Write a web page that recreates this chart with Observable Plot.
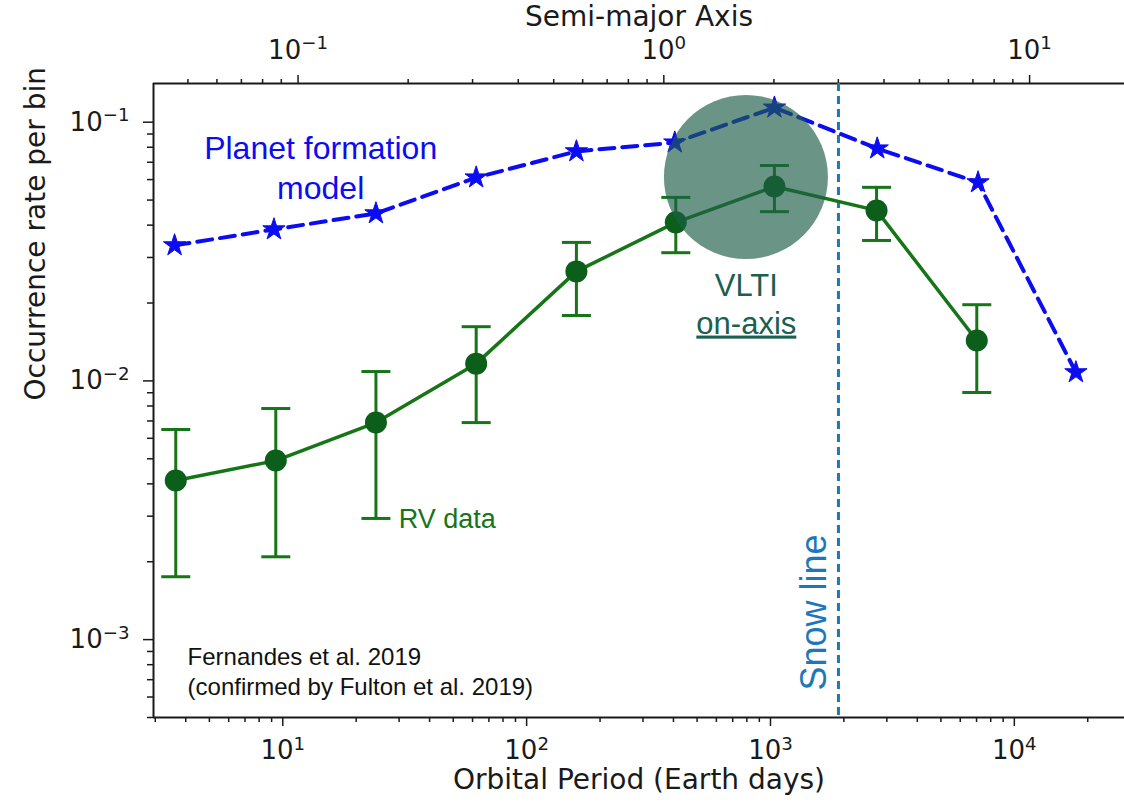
<!DOCTYPE html>
<html>
<head>
<meta charset="utf-8">
<script src="https://cdn.jsdelivr.net/npm/d3@7"></script>
<script src="https://cdn.jsdelivr.net/npm/@observablehq/plot@0.6"></script>
<style>
  html, body { margin: 0; padding: 0; background: #fff; }
  #chart { width: 1124px; height: 809px; }
</style>
</head>
<body>
<div id="chart"></div>
<script>
// ---- data ----
const periods = [3.64, 9.36, 24.1, 62.1, 160, 409, 1038, 2723, 7015];           // Earth days
const rvRate  = [0.00412, 0.00492, 0.0069, 0.01166, 0.0265, 0.041, 0.0564, 0.0456, 0.01433];
const rvLow   = [0.00175, 0.00209, 0.00294, 0.0069, 0.0179, 0.0313, 0.0451, 0.0349, 0.00902];
const rvHigh  = [0.00649, 0.00782, 0.01087, 0.0162, 0.0343, 0.0512, 0.068, 0.056, 0.0197];

const modelPeriods = [3.6, 9.2, 24.1, 62.1, 160, 405, 1038, 2740, 7100, 17890];
const modelRate    = [0.0334, 0.0385, 0.0444, 0.0611, 0.0771, 0.0834, 0.1138, 0.0791, 0.0585, 0.01079];

const snowLinePeriod = [1900];
const vltiCenter = [{period: 793, rate: 0.0614}];

// tick values and labels
const periodMajor = [10, 100, 1000, 10000];
const periodMajorLabels = ["10¹", "10²", "10³", "10⁴"];
const rateMajor = [0.001, 0.01, 0.1];
const rateMajorLabels = ["10⁻³", "10⁻²", "10⁻¹"];
const smaMajor = [0.1, 1, 10];
const smaMajorLabels = ["10⁻¹", "10⁰", "10¹"];

// annotation texts and anchors (data coordinates)
const modelLabel = ["Planet formation\nmodel"];
const modelLabelAt = [14.3, 0.0507];
const rvLabel = ["RV data"];
const rvLabelAt = [29.9, 0.00269];
const vltiLabel = ["VLTI"];
const vltiLabelAt = [796, 0.02138];
const onAxisLabel = ["on-axis"];
const onAxisLabelAt = [796, 0.01524];
const snowLabel = ["Snow line"];
const snowLabelAt = [1517, 0.000636];
const refLabel = ["Fernandes et al. 2019\n(confirmed by Fulton et al. 2019)"];
const refLabelAt = [4.07, 0.000613];

// ---- scales ----
const xDomain = [2.95, 28300];
const yDomain = [0.0005, 0.1411];

// Kepler: semi-major axis (AU) -> period (days)
const smaToPeriod = a => 365.25 * Math.pow(a, 1.5);

function minorTicks(lo, hi) {
  const out = [];
  for (let e = -5; e <= 6; e++) {
    for (let m = 2; m <= 9; m++) {
      const v = m * Math.pow(10, e);
      if (v >= lo && v <= hi) out.push(v);
    }
  }
  return out;
}
const periodMinor = minorTicks(xDomain[0], xDomain[1]);
const rateMinor = minorTicks(yDomain[0], yDomain[1]);
const smaMinor = minorTicks(Math.pow(xDomain[0] / 365.25, 2 / 3), Math.pow(xDomain[1] / 365.25, 2 / 3));

const rv = periods.map((p, i) => ({period: p, rate: rvRate[i], lo: rvLow[i], hi: rvHigh[i]}));
const model = modelPeriods.map((p, i) => ({period: p, rate: modelRate[i]}));
const smaTicks = smaMajor.map((a, i) => ({period: smaToPeriod(a), label: smaMajorLabels[i]}));

const capSymbol = {
  draw(context, size) {
    const w = Math.sqrt(size / Math.PI);
    context.moveTo(-w, 0);
    context.lineTo(w, 0);
  }
};

const GREEN = "#167516";
const GREEN_DOT = "#0b5f1a";
const BLUE = "#0c0cf2";
const SNOW = "#1c78b8";
const TEAL = "#1a6050";
const AX = "#1a1a1a";
const ANNOT_FONT = "'Liberation Sans', Arial, Helvetica, sans-serif";

const pLab = new Map(periodMajor.map((v, i) => [v, periodMajorLabels[i]]));
const rLab = new Map(rateMajor.map((v, i) => [v, rateMajorLabels[i]]));

const chart = Plot.plot({
  width: 1124,
  height: 809,
  marginLeft: 153,
  marginRight: 0,
  marginTop: 83,
  marginBottom: 92,
  style: {fontFamily: "'DejaVu Sans', sans-serif", fontSize: "26px", background: "#fff", color: AX},
  x: {type: "log", domain: xDomain},
  y: {type: "log", domain: yDomain},
  marks: [
    // frame (left, top, bottom)
    Plot.ruleX([xDomain[0]], {stroke: AX, strokeWidth: 2}),
    Plot.ruleY(yDomain, {stroke: AX, strokeWidth: 2}),

    // bottom axis
    Plot.axisX({anchor: "bottom", ticks: periodMinor, tickSize: 5, tickFormat: () => "", label: null, stroke: AX, strokeWidth: 1.5}),
    Plot.axisX({anchor: "bottom", ticks: periodMajor, tickSize: 9, tickPadding: 14, tickFormat: d => pLab.get(d), label: null, fontSize: 26, stroke: AX, strokeWidth: 1.5, fill: AX}),
    // top axis (semi-major axis)
    Plot.axisX({anchor: "top", ticks: smaMinor.map(smaToPeriod), tickSize: 5, tickFormat: () => "", label: null, stroke: AX, strokeWidth: 1.5}),
    Plot.axisX({anchor: "top", ticks: smaTicks.map(d => d.period), tickSize: 9, tickFormat: () => "", label: null, stroke: AX, strokeWidth: 1.5}),
    Plot.text(smaTicks, {x: "period", text: "label", frameAnchor: "top", lineAnchor: "bottom", dy: -25, fontSize: 26, fill: AX}),
    // left axis
    Plot.axisY({anchor: "left", ticks: rateMinor, tickSize: 6, tickFormat: () => "", label: null, stroke: AX, strokeWidth: 1.5}),
    Plot.axisY({anchor: "left", ticks: rateMajor, tickSize: 10, tickPadding: 14, tickFormat: d => rLab.get(d), label: null, fontSize: 26, stroke: AX, strokeWidth: 1.5, fill: AX}),

    // axis titles
    Plot.text(["Orbital Period (Earth days)"], {frameAnchor: "bottom", lineAnchor: "bottom", dy: 71, fontSize: 28, fill: AX}),
    Plot.text(["Semi-major Axis"], {frameAnchor: "top", lineAnchor: "bottom", dy: -58, fontSize: 28, fill: AX}),
    Plot.text(["Occurrence rate per bin"], {frameAnchor: "left", dx: -117, rotate: -90, fontSize: 28, fill: AX}),

    // snow line
    Plot.ruleX(snowLinePeriod, {stroke: SNOW, strokeWidth: 3, strokeDasharray: "8,5"}),

    // planet formation model
    Plot.line(model, {x: "period", y: "rate", stroke: BLUE, strokeWidth: 4, strokeDasharray: "15,8"}),
    Plot.dot(model, {x: "period", y: "rate", symbol: "star", r: 7, fill: BLUE, stroke: BLUE, strokeWidth: 1}),

    // RV data
    Plot.line(rv, {x: "period", y: "rate", stroke: GREEN, strokeWidth: 3.5}),
    Plot.ruleX(rv, {x: "period", y1: "lo", y2: "hi", stroke: GREEN, strokeWidth: 3}),
    Plot.dot(rv, {x: "period", y: "lo", symbol: capSymbol, r: 14.5, stroke: GREEN, strokeWidth: 3, fill: "none"}),
    Plot.dot(rv, {x: "period", y: "hi", symbol: capSymbol, r: 14.5, stroke: GREEN, strokeWidth: 3, fill: "none"}),
    Plot.dot(rv, {x: "period", y: "rate", r: 11, fill: GREEN_DOT, stroke: "none"}),

    // VLTI on-axis disc
    Plot.dot(vltiCenter, {x: "period", y: "rate", r: 82, fill: "#1d5e48", fillOpacity: 0.66, stroke: "none"}),

    // annotations
    Plot.text(modelLabel, {x: modelLabelAt[0], y: modelLabelAt[1], lineAnchor: "bottom", lineHeight: 1.25, fontSize: 32, fill: BLUE, fontFamily: ANNOT_FONT}),
    Plot.text(rvLabel, {x: rvLabelAt[0], y: rvLabelAt[1], textAnchor: "start", lineAnchor: "bottom", fontSize: 27, fill: GREEN, fontFamily: ANNOT_FONT}),
    Plot.text(vltiLabel, {x: vltiLabelAt[0], y: vltiLabelAt[1], lineAnchor: "bottom", fontSize: 31, fill: TEAL, fontFamily: ANNOT_FONT}),
    Plot.text(onAxisLabel, {x: onAxisLabelAt[0], y: onAxisLabelAt[1], lineAnchor: "bottom", fontSize: 31, fill: TEAL, fontFamily: ANNOT_FONT}),
    Plot.text(snowLabel, {x: snowLabelAt[0], y: snowLabelAt[1], rotate: -90, textAnchor: "start", fontSize: 36, fill: SNOW, fontFamily: ANNOT_FONT}),
    Plot.text(refLabel, {x: refLabelAt[0], y: refLabelAt[1], textAnchor: "start", lineAnchor: "bottom", lineHeight: 1.25, fontSize: 24, fill: "#111", fontFamily: ANNOT_FONT})
  ]
});

// mathtext-like superscripts for tick labels, underline for "on-axis"
const supMap = {"⁻": "−", "⁰": "0", "¹": "1", "²": "2", "³": "3", "⁴": "4", "⁵": "5", "⁶": "6", "⁷": "7", "⁸": "8", "⁹": "9"};
const SVGNS = "http://www.w3.org/2000/svg";
chart.querySelectorAll("text").forEach(t => {
  const s = t.textContent;
  if (t.children.length === 0) {
    const m = s.match(/^(\d+)([⁻⁰¹²³⁴⁵⁶⁷⁸⁹]+)$/);
    if (m) {
      t.textContent = m[1];
      const sup = document.createElementNS(SVGNS, "tspan");
      sup.setAttribute("font-size", "0.7em");
      sup.setAttribute("dy", "-0.5em");
      sup.textContent = Array.from(m[2]).map(c => supMap[c]).join("");
      t.appendChild(sup);
    }
  }
  if (s === "on-axis") {
    t.setAttribute("text-decoration", "underline");
    t.style.textDecoration = "underline";
  }
});

document.getElementById("chart").appendChild(chart);
</script>
</body>
</html>
